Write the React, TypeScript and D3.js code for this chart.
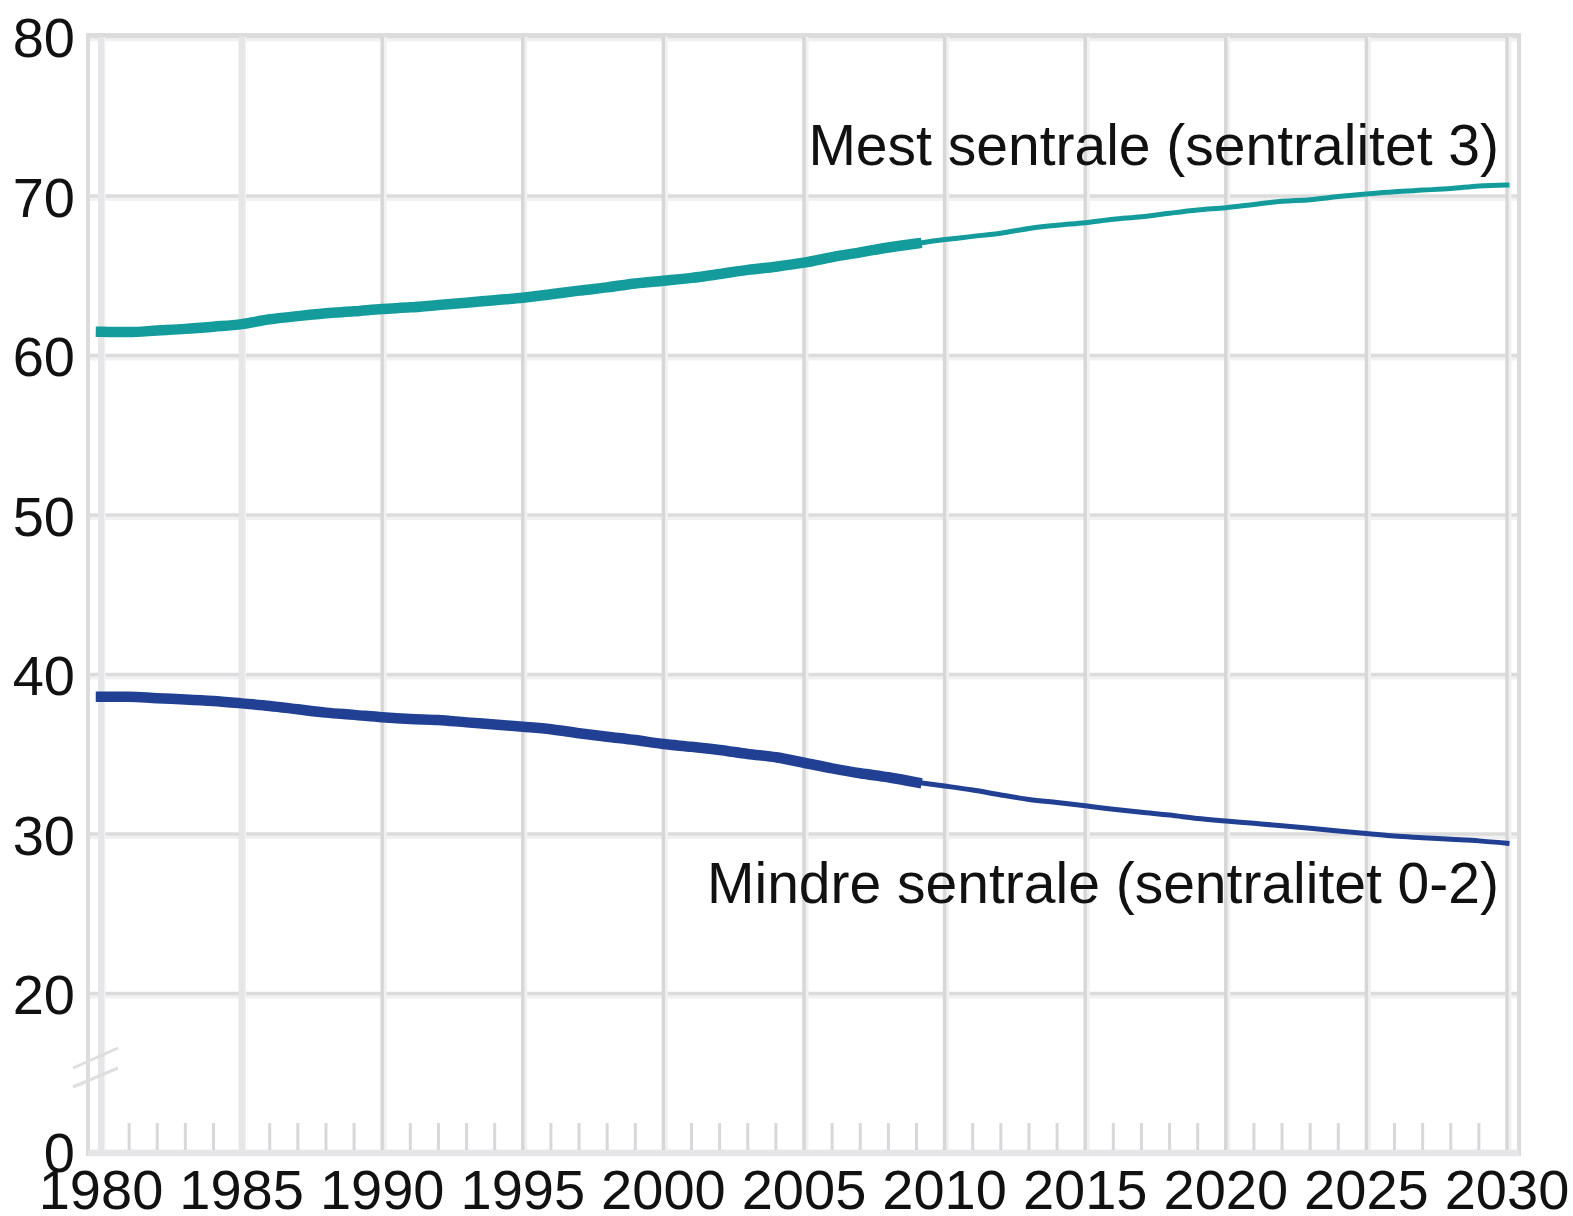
import React from "react";
import * as d3 from "d3";

const histYears = [1980,1981,1982,1983,1984,1985,1986,1987,1988,1989,1990,1991,1992,1993,1994,1995,1996,1997,1998,1999,2000,2001,2002,2003,2004,2005,2006,2007,2008,2009];
const projYears = [2009,2010,2011,2012,2013,2014,2015,2016,2017,2018,2019,2020,2021,2022,2023,2024,2025,2026,2027,2028,2029,2030];

const mestHist = [61.52,61.5,61.6,61.7,61.84,62.0,62.3,62.5,62.68,62.8,62.95,63.05,63.2,63.34,63.5,63.65,63.87,64.1,64.3,64.55,64.72,64.9,65.14,65.4,65.6,65.85,66.2,66.5,66.8,67.05];
const mestProj = [67.05,67.3,67.5,67.7,68.0,68.2,68.36,68.57,68.73,68.95,69.15,69.3,69.5,69.7,69.8,70.0,70.16,70.3,70.4,70.5,70.66,70.72];
const mindreHist = [38.64,38.64,38.54,38.47,38.37,38.22,38.06,37.85,37.64,37.5,37.35,37.24,37.18,37.03,36.9,36.76,36.6,36.35,36.13,35.92,35.67,35.5,35.3,35.05,34.84,34.5,34.15,33.84,33.59,33.27];
const mindreProj = [33.27,33.04,32.79,32.48,32.2,32.0,31.8,31.58,31.39,31.22,31.0,30.85,30.7,30.55,30.39,30.22,30.07,29.9,29.8,29.7,29.6,29.45];

const yTicks = [0, 20, 30, 40, 50, 60, 70, 80];
const xTicks = [1980,1985,1990,1995,2000,2005,2010,2015,2020,2025,2030];
const minorYears = d3.range(1980, 2031);

const labelMest = "Mest sentrale (sentralitet 3)";
const labelMindre = "Mindre sentrale (sentralitet 0-2)";

const TEAL = "#149c9c";
const NAVY = "#224093";
const FONT = "'Liberation Sans', Arial, sans-serif";

export default function App() {
  const x = d3.scaleLinear().domain([1980, 2030]).range([101, 1507]);
  const y = d3.scaleLinear().domain([0, 20, 80]).range([1152, 994, 37]);

  const line = d3
    .line<[number, number]>()
    .x((d) => x(d[0]))
    .y((d) => y(d[1]))
    .curve(d3.curveMonotoneX);

  const zip = (ys: number[], vs: number[]) => ys.map((yr, i) => [yr, vs[i]] as [number, number]);

  const left = 88;
  const right = 1519;
  const top = y(80);
  const bottom = y(0);

  return (
    <svg
      width={1573}
      height={1216}
      style={{ position: "absolute", left: 0, top: 0, background: "#fff" }}
      fontFamily={FONT}
    >
      <rect x={0} y={0} width={1573} height={1216} fill="#fff" />
      {/* horizontal grid */}
      {yTicks.map((t) => (
        <g key={"h" + t}>
          <line x1={left} x2={right} y1={y(t) + 2} y2={y(t) + 2} stroke="#f1f1f2" strokeWidth={5} />
          <line x1={left} x2={right} y1={y(t) - 0.5} y2={y(t) - 0.5} stroke="#dcdcdd" strokeWidth={3.5} />
        </g>
      ))}
      {/* minor ticks */}
      {minorYears
        .filter((yr) => yr % 5 !== 0)
        .map((yr) => (
          <line key={"m" + yr} x1={x(yr)} x2={x(yr)} y1={1123} y2={bottom} stroke="#d8d8da" strokeWidth={3} />
        ))}
      {/* vertical grid */}
      {xTicks.map((t) => (
        <g key={"v" + t}>
          <line x1={x(t) + 2} x2={x(t) + 2} y1={top} y2={bottom} stroke="#f1f1f2" strokeWidth={5} />
          <line
            x1={x(t)}
            x2={x(t)}
            y1={top}
            y2={bottom}
            stroke={t <= 1985 ? "#e6e6e8" : "#d7d7d8"}
            strokeWidth={t <= 1985 ? 6 : 3.5}
          />
        </g>
      ))}
      {/* frame */}
      <line x1={left} x2={left} y1={top - 4} y2={bottom + 4} stroke="#dcdcdd" strokeWidth={4} />
      <line x1={right} x2={right} y1={top - 4} y2={bottom + 4} stroke="#dcdcdd" strokeWidth={4} />
      <line x1={left} x2={right} y1={top - 2} y2={top - 2} stroke="#dcdcdd" strokeWidth={4} />
      <line x1={left} x2={right} y1={bottom + 1} y2={bottom + 1} stroke="#e6e6e8" strokeWidth={6} />
      {/* axis break */}
      <line x1={73} y1={1068} x2={118} y2={1048} stroke="#dedede" strokeWidth={3} />
      <line x1={73} y1={1087} x2={118} y2={1068} stroke="#dedede" strokeWidth={3} />

      {/* series */}
      <path d={line(zip(histYears, mestHist)) || ""} fill="none" stroke={TEAL} strokeWidth={10.5} strokeLinecap="square" />
      <path d={line(zip(projYears, mestProj)) || ""} fill="none" stroke={TEAL} strokeWidth={5} strokeLinecap="square" />
      <path d={line(zip(histYears, mindreHist)) || ""} fill="none" stroke={NAVY} strokeWidth={10.5} strokeLinecap="square" />
      <path d={line(zip(projYears, mindreProj)) || ""} fill="none" stroke={NAVY} strokeWidth={5} strokeLinecap="square" />

      {/* y labels */}
      {yTicks.map((t) => (
        <text key={"yl" + t} x={75} y={y(t)} dy="0.36em" textAnchor="end" fontSize={56} fill="#111">
          {t}
        </text>
      ))}
      {/* x labels */}
      {xTicks.map((t) => (
        <text key={"xl" + t} x={x(t)} y={1209} textAnchor="middle" fontSize={56} fill="#111">
          {t}
        </text>
      ))}

      {/* series labels */}
      <text x={1499} y={165} textAnchor="end" fontSize={57} fill="#111">
        {labelMest}
      </text>
      <text x={1499} y={903} textAnchor="end" fontSize={57} fill="#111">
        {labelMindre}
      </text>
    </svg>
  );
}
